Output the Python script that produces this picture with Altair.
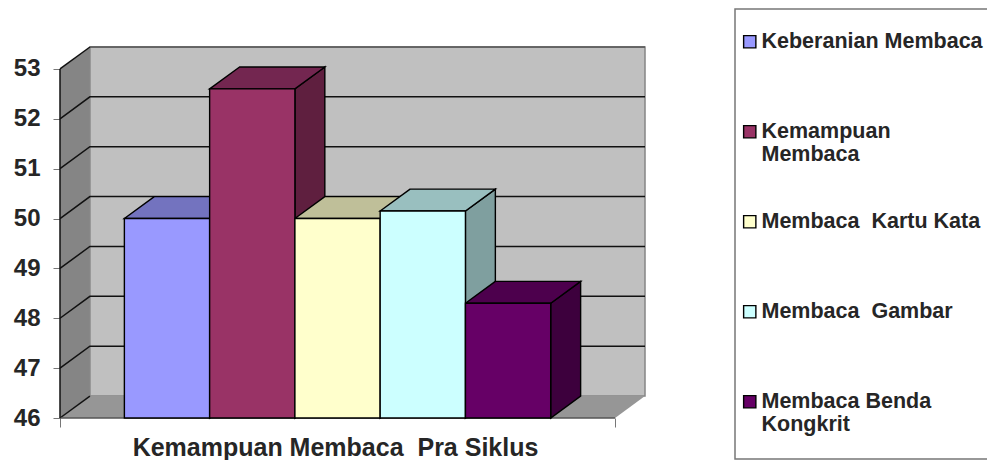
import altair as alt
import pandas as pd

series = ["Keberanian Membaca", "Kemampuan Membaca", "Membaca  Kartu Kata", "Membaca  Gambar", "Membaca Benda Kongkrit"]
values = [50.0, 52.6, 50.0, 50.15, 48.3]
front = ["#9999FF", "#993366", "#FFFFCC", "#CCFFFF", "#660066"]
top = ["#7373BF", "#732650", "#BFBF99", "#99BFBF", "#4D004D"]
side = ["#5C5C99", "#5F1F3F", "#99997A", "#7F9F9F", "#3D003D"]
ticks = [46, 47, 48, 49, 50, 51, 52, 53]
category = "Kemampuan Membaca\u00a0\u00a0Pra Siklus"

GAP, WIDTH, DX, DY = 0.755, 1.0, 0.351, 0.44
FLOOR = 46
TOPV = 53
XMAX = 2 * GAP + 5 * WIDTH
xs = alt.Scale(domain=[0, XMAX + DX], range=[0, 585], nice=False, zero=False)
ys = alt.Scale(domain=[FLOOR, TOPV + DY], range=[371, 0], nice=False, zero=False)

y_axis = alt.Axis(values=ticks, domain=False, grid=False, tickColor="#777777", tickSize=7, tickWidth=1, title=None,
                  labelFont="Liberation Sans", labelFontWeight="bold", labelFontSize=24, labelColor="#262626",
                  labelPadding=13)
x_axis = alt.Axis(values=[0, XMAX], domain=False, grid=False, tickColor="#777777", tickSize=9, labels=False,
                  title=category, titleFont="Liberation Sans", titleFontWeight="bold", titleFontSize=25,
                  titleColor="#262626", titlePadding=8, titleX=275)
X = lambda f: alt.X(f, type="quantitative", scale=xs, axis=x_axis)
Y = lambda f: alt.Y(f, type="quantitative", scale=ys, axis=y_axis)

back = pd.DataFrame({"x": [DX], "x2": [XMAX + DX], "y": [FLOOR + DY], "y2": [TOPV + DY]})
wall_df = pd.DataFrame({"x": [0, DX], "y": [FLOOR, FLOOR + DY], "y2": [TOPV, TOPV + DY]})
floor_df = pd.DataFrame({"y": [FLOOR, FLOOR + DY], "x": [0, DX], "x2": [XMAX, XMAX + DX]})

gl = []
for t in ticks[1:-1]:
    gl += [dict(g=t, o=0, x=0, y=t), dict(g=t, o=1, x=DX, y=t + DY), dict(g=t, o=2, x=XMAX + DX, y=t + DY)]
gl += [dict(g=FLOOR, o=0, x=0, y=FLOOR), dict(g=FLOOR, o=1, x=DX, y=FLOOR + DY)]
gl += [dict(g=TOPV, o=0, x=0, y=TOPV), dict(g=TOPV, o=1, x=DX, y=TOPV + DY)]
grid_df = pd.DataFrame(gl)

rows_side, rows_top, rows_front = [], [], []
for i, s in enumerate(series):
    x0 = GAP + i * WIDTH
    x1 = x0 + WIDTH
    v = values[i]
    rows_side += [dict(b=i, c=side[i], x=x1, y=v, y2=FLOOR), dict(b=i, c=side[i], x=x1 + DX, y=v + DY, y2=FLOOR + DY)]
    rows_top += [dict(b=i, c=top[i], y=v, x=x0, x2=x1), dict(b=i, c=top[i], y=v + DY, x=x0 + DX, x2=x1 + DX)]
    rows_front.append(dict(s=s, x=x0, x2=x1, y=v, y2=FLOOR))

frame = alt.Chart(pd.DataFrame({"a": [0]})).mark_rect(fill="white", stroke="#777777", strokeWidth=1.5).encode(
    x=alt.value(675), x2=alt.value(960), y=alt.value(-38), y2=alt.value(412))
back_l = alt.Chart(back).mark_rect(fill="#C0C0C0", stroke="#858585", strokeWidth=1.5).encode(
    x=X("x"), x2="x2", y=Y("y"), y2="y2")
wall = alt.Chart(wall_df).mark_area(fill="#858585").encode(x=X("x"), y=Y("y"), y2="y2")
flr = alt.Chart(floor_df).mark_area(orient="horizontal", fill="#969696").encode(y=Y("y"), x=X("x"), x2="x2")
top_edge = alt.Chart(pd.DataFrame({"x": [DX], "x2": [XMAX + DX], "y": [TOPV + DY]})).mark_rule(color="#555555", strokeWidth=1.5).encode(x=X("x"), x2="x2", y=Y("y"))
grid = alt.Chart(grid_df).mark_line(color="#111111", strokeWidth=1.5).encode(x=X("x"), y=Y("y"), detail="g:N", order="o:Q")
baseline = alt.Chart(pd.DataFrame({"x": [0], "x2": [XMAX], "y": [FLOOR]})).mark_rule(color="#555555", strokeWidth=1.5).encode(x=X("x"), x2="x2", y=Y("y"))
lefte = alt.Chart(pd.DataFrame({"x": [0], "y": [FLOOR], "y2": [TOPV]})).mark_rule(color="#111111", strokeWidth=1.5).encode(x=X("x"), y=Y("y"), y2="y2")

sides = alt.Chart(pd.DataFrame(rows_side)).mark_area(stroke="black", strokeWidth=1.4).encode(
    x=X("x"), y=Y("y"), y2="y2", detail="b:O", fill=alt.Fill("c:N", scale=None))
tops = alt.Chart(pd.DataFrame(rows_top)).mark_area(orient="horizontal", stroke="black", strokeWidth=1.4).encode(
    y=Y("y"), x=X("x"), x2="x2", detail="b:O", fill=alt.Fill("c:N", scale=None))
fronts = alt.Chart(pd.DataFrame(rows_front)).mark_rect(stroke="black", strokeWidth=1.4).encode(
    x=X("x"), x2="x2", y=Y("y"), y2="y2",
    fill=alt.Fill("s:N", scale=alt.Scale(domain=series, range=front), legend=alt.Legend(
        title=" ", titleFontSize=4, titlePadding=14, orient="none", legendX=735 - 60, legendY=9 - 47,
        symbolType="square", symbolSize=150, symbolStrokeColor="black", symbolStrokeWidth=1.4,
        labelFont="Liberation Sans", labelFontWeight="bold", labelFontSize=21.5, labelColor="#262626",
        labelLimit=400, rowPadding=44, padding=4, gridAlign="all", labelOffset=1,
        labelExpr="datum.label == 'Kemampuan Membaca' ? ['Kemampuan','Membaca'] : datum.label == 'Membaca Benda Kongkrit' ? ['Membaca Benda','Kongkrit'] : replace(datum.label, '  ', '\u00a0\u00a0')")))

chart = alt.layer(frame, back_l, wall, flr, top_edge, grid, baseline, lefte, sides, tops, fronts).properties(
    width=585, height=371, padding={"left": 52, "top": 39, "right": 342, "bottom": 44},
    autosize=alt.AutoSizeParams(type="none"),
).configure_view(stroke=None)

chart.save("out.html", embed_options={"renderer": "svg", "actions": False})
